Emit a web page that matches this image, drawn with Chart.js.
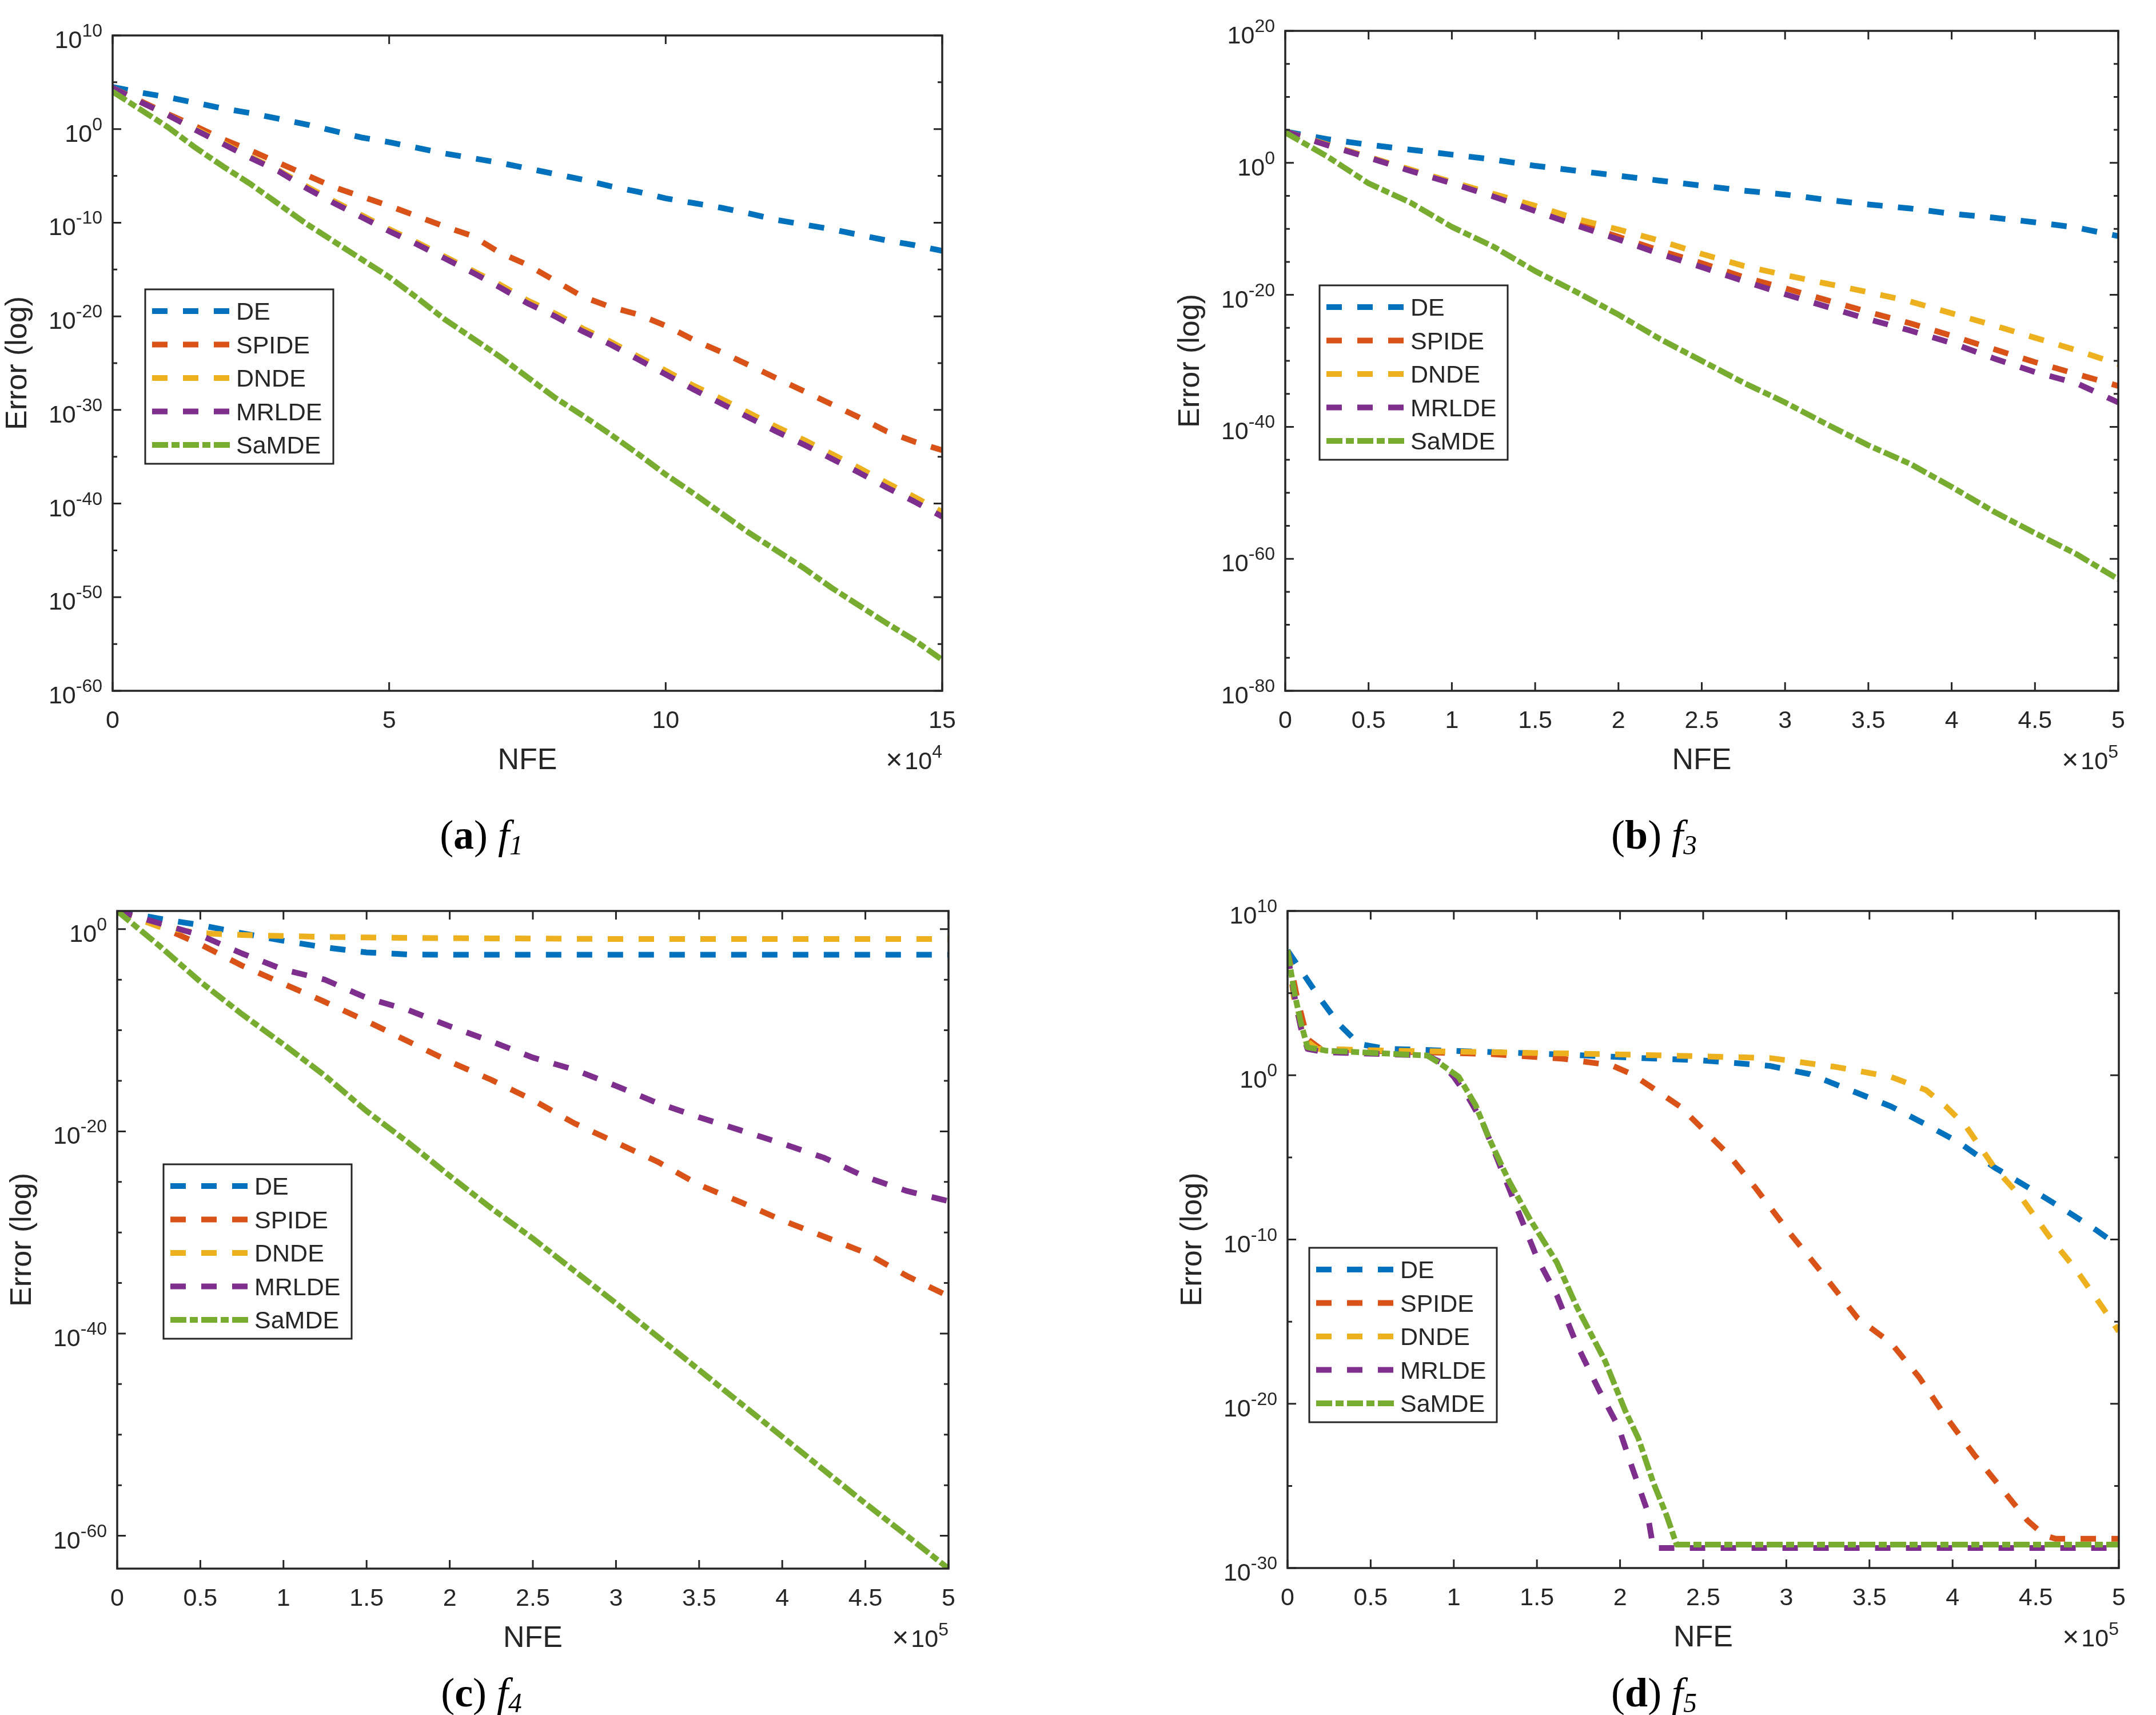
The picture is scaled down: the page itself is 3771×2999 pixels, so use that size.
<!DOCTYPE html>
<html>
<head>
<meta charset="utf-8">
<script src="https://cdn.jsdelivr.net/npm/chart.js@4.4.0/dist/chart.umd.min.js"></script>
<style>
html, body { margin: 0; padding: 0; background: #fff; }
body { width: 3771px; height: 2999px; position: relative; overflow: hidden; }
canvas { position: absolute; }
.cap { position: absolute; width: 600px; text-align: center; color: #000;
       font-family: "Liberation Serif", "DejaVu Serif", serif; font-size: 72px; line-height: 72px; }
.cap sub { font-size: 0.66em; vertical-align: baseline; position: relative; top: 0.2em; }
</style>
</head>
<body>
<canvas id="pa" width="1885" height="1500" style="left:0px;top:0px"></canvas>
<canvas id="pb" width="1886" height="1500" style="left:1885px;top:0px"></canvas>
<canvas id="pc" width="1885" height="1499" style="left:0px;top:1500px"></canvas>
<canvas id="pd" width="1886" height="1499" style="left:1885px;top:1500px"></canvas>

<div class="cap" style="left:542px;top:1424px">(<b>a</b>) <i>f</i><sub><i>1</i></sub></div>
<div class="cap" style="left:2593px;top:1424px">(<b>b</b>) <i>f</i><sub><i>3</i></sub></div>
<div class="cap" style="left:542px;top:2924px">(<b>c</b>) <i>f</i><sub><i>4</i></sub></div>
<div class="cap" style="left:2593px;top:2924px">(<b>d</b>) <i>f</i><sub><i>5</i></sub></div>

<script>
// all error values are log10(error); NFE in axis units (x10^4 for f1, x10^5 otherwise)

// (a) f1
const aX = [0, 0.5, 1, 1.5, 2, 2.5, 3, 3.5, 4, 4.5, 5, 5.5, 6, 6.5, 7, 7.5, 8, 8.5, 9, 9.5, 10, 10.5, 11, 11.5, 12, 12.5, 13, 13.5, 14, 14.5, 15];
const aDE = [4.5, 3.9, 3.4, 2.8, 2.2, 1.7, 1.1, 0.5, -0.2, -0.9, -1.4, -2.0, -2.6, -3.1, -3.6, -4.2, -4.8, -5.4, -6.1, -6.7, -7.4, -7.9, -8.4, -9.0, -9.7, -10.2, -10.7, -11.3, -11.9, -12.4, -13.0];
const aSPIDE = [4.4, 3.0, 1.6, 0.3, -1.1, -2.3, -3.6, -4.9, -6.2, -7.2, -8.2, -9.3, -10.4, -11.4, -13.2, -14.5, -16.2, -17.9, -19.0, -19.8, -21.0, -22.5, -23.8, -25.2, -26.6, -28.0, -29.4, -30.8, -32.3, -33.4, -34.3];
const aDNDE = [4.4, 2.9, 1.5, 0.0, -1.5, -3.0, -4.4, -6.1, -7.7, -9.2, -10.7, -12.1, -13.6, -15.1, -16.6, -18.3, -19.7, -21.3, -22.7, -24.3, -25.8, -27.4, -28.8, -30.3, -31.8, -33.2, -34.7, -36.2, -37.8, -39.3, -40.9];
const aMRLDE = [4.4, 2.9, 1.5, -0.1, -1.6, -3.1, -4.5, -6.3, -7.9, -9.4, -10.9, -12.3, -13.8, -15.3, -16.9, -18.6, -20.0, -21.6, -23.0, -24.6, -26.2, -27.8, -29.3, -30.8, -32.3, -33.7, -35.2, -36.7, -38.3, -39.8, -41.4];
const aSaMDE = [4.0, 2.1, 0.2, -2.0, -4.0, -5.9, -8.0, -10.1, -12.0, -13.9, -15.8, -18.0, -20.3, -22.3, -24.3, -26.5, -28.7, -30.6, -32.6, -34.7, -36.9, -38.9, -41.0, -43.1, -45.0, -46.9, -49.0, -50.9, -52.8, -54.6, -56.7];

// (b) f3
const bX = [0, 0.25, 0.5, 0.75, 1, 1.25, 1.5, 1.75, 2, 2.25, 2.5, 2.75, 3, 3.25, 3.5, 3.75, 4, 4.25, 4.5, 4.75, 5];
const bDE = [4.75, 3.6, 2.75, 2.0, 1.25, 0.5, -0.45, -1.2, -1.95, -2.7, -3.45, -4.2, -4.8, -5.6, -6.3, -6.9, -7.7, -8.3, -9.0, -9.8, -11.1];
const bSPIDE = [4.75, 2.8, 0.9, -1.1, -3.0, -5.0, -7.1, -9.2, -11.2, -13.3, -15.2, -17.3, -19.0, -20.8, -22.6, -24.3, -26.2, -28.2, -30.2, -32.0, -33.8];
const bDNDE = [4.75, 2.8, 0.9, -1.0, -2.9, -4.7, -6.5, -8.5, -10.1, -11.8, -13.8, -15.6, -17.0, -18.3, -19.6, -21.0, -22.8, -24.6, -26.5, -28.4, -30.5];
const bMRLDE = [4.75, 2.7, 0.8, -1.2, -3.1, -5.1, -7.3, -9.5, -11.6, -13.8, -15.8, -17.9, -19.9, -21.8, -23.7, -25.4, -27.3, -29.6, -31.7, -33.4, -36.3];
const bSaMDE = [4.6, 1.0, -3.1, -6.0, -9.7, -12.7, -16.4, -19.6, -23.0, -26.7, -30.0, -33.3, -36.3, -39.6, -42.8, -45.6, -49.1, -52.8, -56.1, -59.3, -63.1];

// (c) f4
const cX = [0, 0.25, 0.5, 0.75, 1, 1.25, 1.5, 1.75, 2, 2.25, 2.5, 2.75, 3, 3.25, 3.5, 3.75, 4, 4.25, 4.5, 4.75, 5];
const cDE = [1.8, 1.05, 0.4, -0.4, -1.15, -1.8, -2.3, -2.5, -2.53, -2.53, -2.53, -2.53, -2.53, -2.53, -2.53, -2.53, -2.53, -2.53, -2.53, -2.53, -2.53];
const cSPIDE = [1.8, 0.3, -1.5, -3.6, -5.4, -7.2, -9.1, -11.1, -13.1, -14.9, -16.9, -19.2, -21.1, -23.0, -25.3, -27.0, -28.8, -30.4, -32.0, -34.3, -36.3];
const cDNDE = [1.8, 0.25, -0.4, -0.57, -0.68, -0.76, -0.82, -0.86, -0.89, -0.91, -0.93, -0.95, -0.97, -0.97, -0.97, -0.97, -0.97, -0.97, -0.97, -0.97, -0.97];
const cMRLDE = [1.8, 0.6, -0.6, -2.4, -4.0, -5.0, -6.8, -8.0, -9.6, -11.1, -12.7, -13.9, -15.5, -17.2, -18.6, -19.9, -21.2, -22.6, -24.5, -25.9, -26.9];
const cSaMDE = [1.8, -1.6, -5.2, -8.4, -11.4, -14.5, -18.0, -21.1, -24.4, -27.6, -30.6, -33.8, -37.0, -40.3, -43.6, -46.9, -50.2, -53.5, -56.8, -60.0, -63.25];

// (d) f5 - each curve has its own sample points
const dDEx = [0, 0.1, 0.2, 0.31, 0.43, 0.6, 0.8, 1.25, 1.7, 2.07, 2.5, 2.9, 3.14, 3.39, 3.63, 3.84, 4.04, 4.25, 4.45, 4.66, 4.86, 5.0];
const dDE = [7.6, 6.1, 4.6, 3.1, 1.9, 1.6, 1.55, 1.4, 1.25, 1.07, 0.9, 0.57, 0.07, -0.93, -1.9, -3.0, -4.1, -5.6, -6.8, -8.1, -9.4, -10.4];
const dSPIDEx = [0, 0.06, 0.12, 0.2, 0.6, 1.2, 1.66, 1.95, 2.07, 2.2, 2.36, 2.48, 2.65, 2.81, 3.02, 3.22, 3.43, 3.63, 3.8, 3.96, 4.13, 4.29, 4.45, 4.55, 4.62, 5.0];
const dSPIDE = [7.6, 4.6, 2.2, 1.6, 1.45, 1.3, 1.0, 0.6, 0.07, -0.8, -1.9, -3.1, -4.8, -6.8, -9.6, -12.1, -14.8, -16.3, -18.4, -20.8, -23.1, -25.1, -27.1, -28.0, -28.22, -28.22];
const dDNDEx = [0, 0.04, 0.1, 0.18, 0.6, 1.25, 2.07, 2.9, 3.3, 3.63, 3.84, 3.96, 4.08, 4.25, 4.41, 4.58, 4.74, 4.9, 5.0];
const dDNDE = [7.4, 4.6, 2.2, 1.6, 1.5, 1.4, 1.25, 1.05, 0.5, -0.1, -0.9, -1.9, -3.1, -5.6, -7.4, -9.8, -11.8, -14.1, -15.6];
const dMRLDEx = [0, 0.04, 0.08, 0.12, 0.23, 0.84, 0.92, 1.0, 1.09, 1.17, 1.25, 1.38, 1.5, 1.62, 1.74, 1.87, 1.99, 2.07, 2.16, 2.2, 5.0];
const dMRLDE = [7.4, 4.9, 2.9, 1.6, 1.4, 1.2, 0.8, -0.1, -1.4, -2.8, -4.8, -8.1, -11.1, -13.4, -16.4, -19.1, -21.4, -23.8, -26.4, -28.78, -28.78];
const dSaMDEx = [0, 0.04, 0.08, 0.12, 0.23, 0.84, 0.92, 1.03, 1.13, 1.21, 1.33, 1.46, 1.62, 1.74, 1.91, 2.03, 2.11, 2.2, 2.28, 2.34, 5.0];
const dSaMDE = [7.6, 5.1, 3.2, 1.7, 1.5, 1.2, 0.7, -0.1, -1.8, -3.8, -6.4, -8.8, -11.4, -14.1, -17.4, -20.4, -22.1, -24.8, -26.8, -28.57, -28.57];

const seriesNames = ['DE', 'SPIDE', 'DNDE', 'MRLDE', 'SaMDE'];
const seriesColors = ['#0072BD', '#D95319', '#EDB120', '#7E2F8E', '#77AC30'];
const seriesDash = [[27, 27], [27, 27], [27, 27], [27, 27], [28, 6, 14, 6]];

const halfX = [0, 0.5, 1, 1.5, 2, 2.5, 3, 3.5, 4, 4.5, 5];

const FONT = '"Liberation Sans", Arial, Helvetica, sans-serif';
const INK = '#262626';

const panels = [
    { id: 'pa', off: [0, 0], area: [197, 62, 1648, 1208],
      xMin: 0, xMax: 15, xTicks: [0, 5, 10, 15], mult: '4',
      yMin: -60, yMax: 10, yLabelStep: 10, legend: [254, 506, 329, 305],
      xs: [aX, aX, aX, aX, aX], ys: [aDE, aSPIDE, aDNDE, aMRLDE, aSaMDE] },
    { id: 'pb', off: [1885, 0], area: [2248, 54, 3705, 1208],
      xMin: 0, xMax: 5, xTicks: halfX, mult: '5',
      yMin: -80, yMax: 20, yLabelStep: 20, legend: [2308, 499, 329, 305],
      xs: [bX, bX, bX, bX, bX], ys: [bDE, bSPIDE, bDNDE, bMRLDE, bSaMDE] },
    { id: 'pc', off: [0, 1500], area: [205, 1593, 1659, 2743],
      xMin: 0, xMax: 5, xTicks: halfX, mult: '5',
      yMin: -63.25, yMax: 1.8, yLabelStep: 20, legend: [286, 2036, 329, 305],
      xs: [cX, cX, cX, cX, cX], ys: [cDE, cSPIDE, cDNDE, cMRLDE, cSaMDE] },
    { id: 'pd', off: [1885, 1500], area: [2252, 1593, 3706, 2742],
      xMin: 0, xMax: 5, xTicks: halfX, mult: '5',
      yMin: -30, yMax: 10, yLabelStep: 10, legend: [2290, 2182, 328, 305],
      xs: [dDEx, dSPIDEx, dDNDEx, dMRLDEx, dSaMDEx], ys: [dDE, dSPIDE, dDNDE, dMRLDE, dSaMDE] }
];

// "10" with a superscript, right edge at xRight; returns left edge
function drawPow(ctx, xRight, baseY, sup) {
    ctx.textAlign = 'left';
    ctx.textBaseline = 'alphabetic';
    ctx.font = '32px ' + FONT;
    const ws = ctx.measureText(sup).width;
    ctx.font = '43px ' + FONT;
    const wb = ctx.measureText('10').width;
    ctx.fillText('10', xRight - ws - wb, baseY);
    ctx.font = '32px ' + FONT;
    ctx.fillText(sup, xRight - ws, baseY - 20);
    return xRight - ws - wb;
}

function axesPlugin(p) {
    return {
        id: 'matlabAxes',
        afterDatasetsDraw(chart) {
            const ctx = chart.ctx;
            const a = chart.chartArea;
            const xs = chart.scales.x, ys = chart.scales.y;
            const ox = p.off[0], oy = p.off[1];
            ctx.save();
            ctx.strokeStyle = INK;
            ctx.fillStyle = INK;
            ctx.setLineDash([]);

            // inward ticks on all four sides
            ctx.lineWidth = 3;
            p.xTicks.forEach(v => {
                const px = xs.getPixelForValue(v);
                ctx.beginPath();
                ctx.moveTo(px, a.bottom); ctx.lineTo(px, a.bottom - 15);
                ctx.moveTo(px, a.top); ctx.lineTo(px, a.top + 15);
                ctx.stroke();
            });
            const yTicks = [];
            for (let v = Math.floor(p.yMax / 5) * 5; v >= p.yMin; v -= 5) yTicks.push(v);
            yTicks.forEach(v => {
                const py = ys.getPixelForValue(v);
                const len = (v % p.yLabelStep === 0) ? 15 : 8;
                ctx.beginPath();
                ctx.moveTo(a.left, py); ctx.lineTo(a.left + len, py);
                ctx.moveTo(a.right, py); ctx.lineTo(a.right - len, py);
                ctx.stroke();
            });

            // box
            ctx.lineWidth = 3.5;
            ctx.strokeRect(a.left, a.top, a.right - a.left, a.bottom - a.top);

            // tick labels
            ctx.font = '43px ' + FONT;
            ctx.textAlign = 'center';
            ctx.textBaseline = 'alphabetic';
            p.xTicks.forEach(v => {
                ctx.fillText(String(v), xs.getPixelForValue(v), a.bottom + 65);
            });
            yTicks.forEach(v => {
                if (v % p.yLabelStep !== 0) return;
                drawPow(ctx, a.left - 18, ys.getPixelForValue(v) + 22, String(v));
            });

            // exponent of the x axis
            const left10 = drawPow(ctx, a.right, a.bottom + 137, p.mult);
            ctx.font = '50px ' + FONT;
            ctx.textAlign = 'right';
            ctx.fillText('\u00D7', left10 - 4, a.bottom + 137);

            // axis titles
            ctx.font = '52px ' + FONT;
            ctx.textAlign = 'center';
            ctx.textBaseline = 'alphabetic';
            ctx.fillText('NFE', (a.left + a.right) / 2, a.bottom + 137);
            ctx.save();
            ctx.translate(a.left - 165, (a.top + a.bottom) / 2);
            ctx.rotate(-Math.PI / 2);
            ctx.textBaseline = 'middle';
            ctx.fillText('Error (log)', 0, 0);
            ctx.restore();

            // legend
            const lx = p.legend[0] - ox, ly = p.legend[1] - oy, lw = p.legend[2], lh = p.legend[3];
            ctx.fillStyle = '#fff';
            ctx.fillRect(lx, ly, lw, lh);
            ctx.lineWidth = 3;
            ctx.strokeStyle = INK;
            ctx.strokeRect(lx, ly, lw, lh);
            seriesNames.forEach((name, i) => {
                const cy = ly + 38 + i * 58.5;
                ctx.save();
                ctx.strokeStyle = seriesColors[i];
                ctx.lineWidth = 10;
                ctx.lineCap = 'butt';
                ctx.setLineDash(seriesDash[i]);
                ctx.beginPath();
                ctx.moveTo(lx + 12, cy);
                ctx.lineTo(lx + 148, cy);
                ctx.stroke();
                ctx.restore();
                ctx.fillStyle = INK;
                ctx.font = '43px ' + FONT;
                ctx.textAlign = 'left';
                ctx.textBaseline = 'alphabetic';
                ctx.fillText(name, lx + 159, cy + 15);
            });
            ctx.restore();
        }
    };
}

function buildDatasets(xArrays, yArrays) {
    return yArrays.map((ys, i) => ({
        label: seriesNames[i],
        data: ys.map((v, k) => ({ x: xArrays[i][k], y: v })),
        borderColor: seriesColors[i],
        borderWidth: 10,
        borderDash: seriesDash[i],
        borderCapStyle: 'butt',
        borderJoinStyle: 'round',
        pointRadius: 0,
        tension: 0,
        fill: false,
        order: seriesNames.length - 1 - i   // later series on top
    }));
}

panels.forEach(p => {
    const canvas = document.getElementById(p.id);
    const cw = canvas.width, ch = canvas.height;
    const [L, T, R, B] = p.area;
    new Chart(canvas.getContext('2d'), {
        type: 'line',
        data: { datasets: buildDatasets(p.xs, p.ys) },
        options: {
            responsive: false,
            maintainAspectRatio: false,
            devicePixelRatio: 1,
            animation: false,
            events: [],
            layout: {
                padding: {
                    left: L - p.off[0],
                    top: T - p.off[1],
                    right: p.off[0] + cw - R,
                    bottom: p.off[1] + ch - B
                }
            },
            plugins: {
                legend: { display: false },
                tooltip: { enabled: false }
            },
            scales: {
                x: { type: 'linear', min: p.xMin, max: p.xMax, display: false },
                y: { type: 'linear', min: p.yMin, max: p.yMax, display: false }
            }
        },
        plugins: [axesPlugin(p)]
    });
});
</script>
</body>
</html>
